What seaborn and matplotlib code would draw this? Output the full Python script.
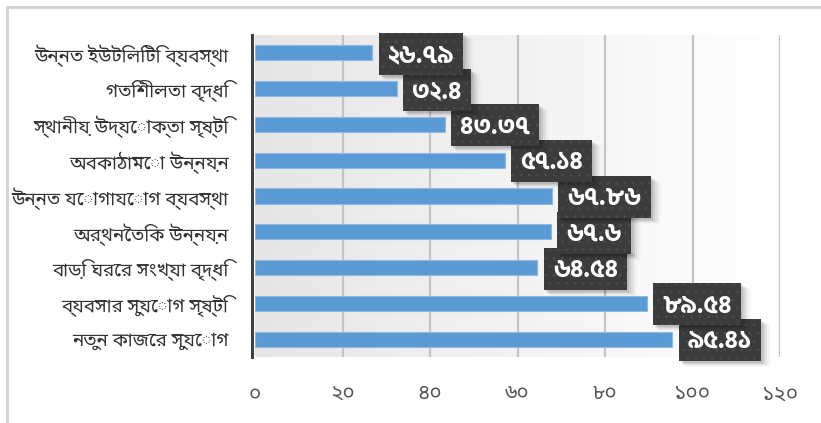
import numpy as np
import pandas as pd
import matplotlib
matplotlib.use("Agg")
import matplotlib.pyplot as plt
from matplotlib import font_manager
from matplotlib.ft2font import FT2Font
from matplotlib.patches import Rectangle
from matplotlib.lines import Line2D
from matplotlib.colors import LinearSegmentedColormap
from matplotlib.transforms import IdentityTransform
import seaborn as sns

# ---- data -------------------------------------------------------------
categories = [
    "উন্নত ইউটিলিটি ব্যবস্থা",
    "গতিশীলতা বৃদ্ধি",
    "স্থানীয় উদ্যোক্তা সৃষ্টি",
    "অবকাঠামো উন্নয়ন",
    "উন্নত যোগাযোগ ব্যবস্থা",
    "অর্থনৈতিক উন্নয়ন",
    "বাড়ি ঘরের সংখ্যা বৃদ্ধি",
    "ব্যবসার সুযোগ সৃষ্টি",
    "নতুন কাজের সুযোগ",
]
values = [26.79, 32.4, 43.37, 57.14, 67.86, 67.6, 64.54, 89.54, 95.41]
x_ticks = [0, 20, 40, 60, 80, 100, 120]

BN_DIGITS = str.maketrans("0123456789", "০১২৩৪৫৬৭৮৯")


def bn(num):
    return f"{num:g}".translate(BN_DIGITS)


def bengali_family_names():
    names = []
    for entry in font_manager.fontManager.ttflist:
        try:
            cmap = FT2Font(entry.fname).get_charmap()
        except Exception:
            continue
        if 0x0995 in cmap and 0x09E6 in cmap and entry.name not in names:
            names.append(entry.name)
    return names


PREFERRED = ["Noto Sans Bengali", "Hind Siliguri", "Lohit Bengali", "FreeSans"]


def family_order(names):
    ranked = [p for p in PREFERRED if p in names]
    others = [nm for nm in names if nm not in ranked and "Unifont" not in nm]
    last = [nm for nm in names if "Unifont" in nm]
    return ranked + others + last


# ---- style ------------------------------------------------------------
sns.set_style("white")
families = family_order(bengali_family_names())
plt.rcParams["font.family"] = families + ["DejaVu Sans"]
plt.rcParams["hatch.linewidth"] = 0.6
callout_family = [f for f in ["Hind Siliguri"] if f in families] + families + ["DejaVu Sans"]

W, H, DPI = 821, 423, 100
fig = plt.figure(figsize=(W / DPI, H / DPI), dpi=DPI)
fig.patch.set_facecolor("white")

ax_left, ax_right, ax_top, ax_bottom = 255, 780, 35, 357
ax = fig.add_axes([ax_left / W, 1 - ax_bottom / H,
                   (ax_right - ax_left) / W, (ax_bottom - ax_top) / H])

df = pd.DataFrame({"category": categories, "value": values})
sns.barplot(data=df, x="value", y="category", orient="h", ax=ax,
            color="#5B9BD5", saturation=1, width=0.42,
            edgecolor="#8FB8E3", linewidth=0.8, zorder=3)

n = len(categories)

# soft grey-to-white backdrop behind the bars
grad = LinearSegmentedColormap.from_list("bg", ["#e6e6e6", "#f3f3f3", "#ffffff"])
ax.imshow(np.linspace(0, 1, 256)[None, :], extent=[0, 120, n - 0.5, -0.5],
          aspect="auto", cmap=grad, zorder=0)
ax.set_xlim(0, 120)
ax.set_ylim(n - 0.5, -0.5)

# vertical gridlines
for t in x_ticks[1:]:
    ax.axvline(t, color="#c4c4c4", lw=1.6, zorder=1)

for side in ["top", "right", "bottom"]:
    ax.spines[side].set_visible(False)
ax.spines["left"].set_color("#404040")
ax.spines["left"].set_linewidth(2.2)
ax.spines["left"].set_position(("outward", 2))

ax.set_xlabel("")
ax.set_ylabel("")
ax.set_xticks(x_ticks)
ax.set_xticklabels([bn(t) for t in x_ticks], color="#555555", fontsize=15)
ax.tick_params(axis="x", length=0, pad=19)

ax.set_yticks(range(n))
ax.set_yticklabels(categories, color="#333333", fontsize=13.5)
ax.set_yticks(np.arange(-0.5, n, 1.0), minor=True)
ax.tick_params(axis="y", which="major", length=0, pad=17)
ax.tick_params(axis="y", which="minor", length=5.5, width=1.6,
               color="#404040", direction="out")

# ---- value callouts ---------------------------------------------------
GAP, PAD, BOX_H = 6.5, 9, 42
texts = []
for i, v in enumerate(values):
    z = 10 + (n - i) * 4
    t = ax.annotate(bn(v), xy=(v, i), xytext=((GAP + PAD) / DPI * 72, 0),
                    textcoords="offset points", ha="left", va="center_baseline",
                    color="white", fontsize=18, fontweight="bold",
                    family=callout_family, zorder=z + 3, annotation_clip=False)
    texts.append((t, v, i, z))

fig.canvas.draw()
renderer = fig.canvas.get_renderer()
ident = IdentityTransform()
for t, v, i, z in texts:
    ext = t.get_window_extent(renderer)
    bx, by = ax.transData.transform((v, i))
    x0 = bx + GAP
    w = ext.width + 2 * PAD
    y0 = by - BOX_H / 2 - 1
    # layered soft shadow
    for k, a in enumerate([0.09, 0.07, 0.05, 0.035, 0.02]):
        off = 2 + k
        sh = Rectangle((x0 + off, y0 - off), w + k, BOX_H, transform=ident,
                       facecolor="black", alpha=a, lw=0, zorder=z)
        ax.add_artist(sh)
        sh.set_clip_on(False)
    box = Rectangle((x0, y0), w, BOX_H, transform=ident,
                    facecolor="#3c3c3c", edgecolor="#4e4e4e",
                    hatch="..", lw=0, zorder=z + 1)
    ax.add_artist(box)
    box.set_clip_on(False)

# chart frame
fig.add_artist(Line2D([7 / W, 7 / W], [0, 1 - 7 / H], color="#d2d2d2", lw=2))
fig.add_artist(Line2D([7 / W, 1], [1 - 7 / H, 1 - 7 / H], color="#d2d2d2", lw=2))

fig.savefig("out.png", dpi=DPI)
